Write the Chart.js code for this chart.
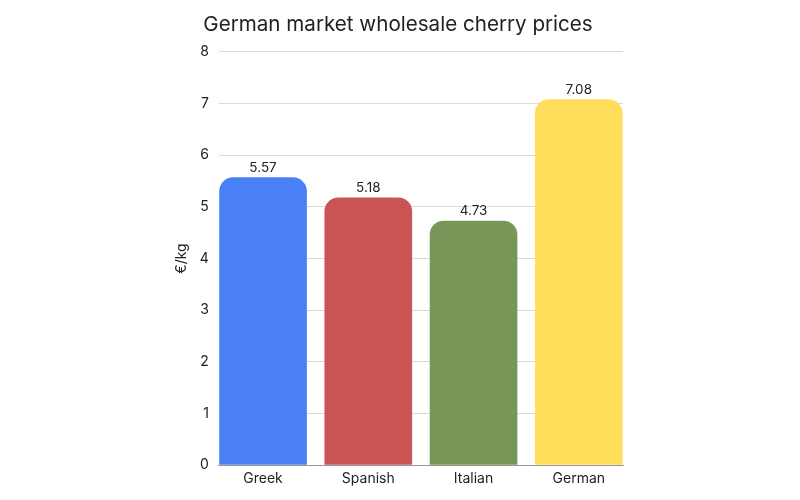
<!DOCTYPE html>
<html>
<head>
<meta charset="utf-8">
<script src="https://cdn.jsdelivr.net/npm/chart.js@4"></script>
<style>
  html, body { margin: 0; padding: 0; background: #fff; }
  #wrap { width: 800px; height: 500px; }
</style>
</head>
<body>
<div id="wrap"><canvas id="priceChart"></canvas></div>
<script>
const origins = ['Greek', 'Spanish', 'Italian', 'German'];
const prices = [5.57, 5.18, 4.73, 7.08];
const barColors = ['#4a80f5', '#c85553', '#789658', '#ffde5c'];
const yTicks = [0, 1, 2, 3, 4, 5, 6, 7, 8];

// value labels above each bar
const valueLabels = {
  id: 'valueLabels',
  afterDatasetsDraw(chart) {
    const ctx = chart.ctx;
    const meta = chart.getDatasetMeta(0);
    ctx.save();
    ctx.font = '13.5px Inter';
    ctx.fillStyle = '#222';
    ctx.textAlign = 'center';
    ctx.textBaseline = 'bottom';
    meta.data.forEach((bar, i) => {
      ctx.fillText(prices[i].toFixed(2), bar.x, bar.y - 3);
    });
    ctx.restore();
  }
};

const ctx = document.getElementById('priceChart').getContext('2d');
new Chart(ctx, {
  type: 'bar',
  data: {
    datasets: [{
      label: '€/kg',
      data: prices.map((p, i) => ({ x: i, y: p })),
      backgroundColor: barColors,
      borderRadius: { topLeft: 14, topRight: 14 },
      borderSkipped: 'bottom',
      categoryPercentage: 1,
      barPercentage: 0.833
    }]
  },
  options: {
    responsive: true,
    maintainAspectRatio: false,
    animation: false,
    layout: { padding: { left: 173, right: 177, top: 4, bottom: 8 } },
    plugins: {
      legend: { display: false },
      tooltip: { enabled: false },
      title: {
        display: true,
        text: 'German market wholesale cherry prices',
        color: '#222',
        font: { family: 'Inter', size: 20.6, weight: 'normal' },
        padding: { top: 8, bottom: 15 }
      }
    },
    scales: {
      x: {
        type: 'linear',
        offset: false,
        min: -0.42,
        max: origins.length - 1 + 0.42,
        afterBuildTicks: axis => { axis.ticks = origins.map((_, i) => ({ value: i })); },
        grid: { display: false, drawTicks: false },
        border: { color: '#999' },
        ticks: {
          color: '#222',
          font: { family: 'Inter', size: 14 },
          padding: 5,
          callback: v => origins[v]
        }
      },
      y: {
        min: yTicks[0],
        max: yTicks[yTicks.length - 1],
        afterBuildTicks: axis => { axis.ticks = yTicks.map(v => ({ value: v })); },
        ticks: { color: '#222', font: { family: 'Inter', size: 14 }, padding: 10 },
        grid: { color: '#d9d9d9', drawTicks: false },
        border: { display: false },
        title: {
          display: true,
          text: '€/kg',
          color: '#222',
          font: { family: 'Inter', size: 14 },
          padding: 0
        }
      }
    }
  },
  plugins: [valueLabels]
});
</script>
</body>
</html>
